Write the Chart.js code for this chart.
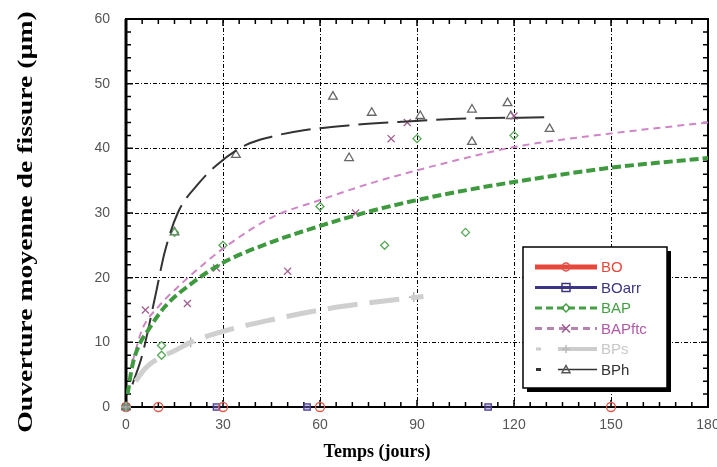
<!DOCTYPE html>
<html>
<head>
<meta charset="utf-8">
<script src="https://cdn.jsdelivr.net/npm/chart.js@4.4.0/dist/chart.umd.min.js"></script>
<style>
    html, body { margin: 0; padding: 0; background: #fff; }
    #chartContainer { width: 717px; height: 467px; }
</style>
</head>
<body>
<div id="chartContainer">
    <canvas id="myChart"></canvas>
</div>

<script>
    // axis ticks
    var xTicks = [0, 30, 60, 90, 120, 150, 180];
    var yTicks = [0, 10, 20, 30, 40, 50, 60];
    var xTitle = 'Temps (jours)';
    var yTitle = 'Ouverture moyenne de fissure (µm)';

    var boDays = [0, 10, 30, 60, 150];
    var boVals = [0, 0, 0, 0, 0];
    var boarrDays = [0, 28, 56, 112];
    var boarrVals = [0, 0, 0, 0];
    var bapDays = [0, 11, 11, 15, 30, 60, 80, 90, 105, 120];
    var bapVals = [0, 9.5, 8, 27, 25, 31, 25, 41.5, 27, 42];
    var bapftcDays = [0, 6, 19, 28, 50, 71, 82, 87, 120];
    var bapftcVals = [0, 15, 16, 21.5, 21, 30, 41.5, 44, 45];
    var bpsDays = [0, 20, 89];
    var bpsVals = [0, 10, 17];
    var bphDays = [0, 15, 34, 64, 69, 76, 91, 107, 107, 118, 119, 131];
    var bphVals = [0, 27, 39, 48, 38.5, 45.5, 45, 46, 41, 47, 45, 43];

    // fitted curves
    var bapFitDays = [0.5, 2, 4, 7, 12, 20, 30, 45, 60, 75, 90, 105, 120, 150, 180];
    var bapFitVals = [2, 6.5, 9.5, 12, 15.5, 19, 22.3, 25.5, 28, 30.2, 32, 33.5, 34.8, 37, 38.5];
    var bapftcFitDays = [2, 5, 10, 17, 25, 30, 45, 60, 75, 90, 105, 120, 150, 180];
    var bapftcFitVals = [7, 12, 15.5, 19, 22.5, 24.5, 29.3, 32, 34.5, 36.6, 38.5, 40.2, 42.3, 44];
    var bpsFitDays = [3, 6, 10, 15, 20, 30, 45, 60, 75, 92];
    var bpsFitVals = [4, 6, 7.5, 8.7, 10, 11.7, 13.5, 15, 16.1, 17.1];
    var bphFitDays = [2, 5, 9, 12, 16, 22, 28, 37, 45, 55, 70, 85, 105, 131];
    var bphFitVals = [3.5, 8, 17, 24, 30, 34.3, 37.4, 40.5, 41.8, 42.8, 43.6, 44.1, 44.6, 44.8];

    var seriesNames = ['BO', 'BOarr', 'BAP', 'BAPftc', 'BPs', 'BPh'];

    function pts(xs, ys) {
        return xs.map(function (x, i) { return { x: x, y: ys[i] }; });
    }

    function fitLine(xs, ys, color, width, dash) {
        return {
            data: pts(xs, ys), showLine: true, borderColor: color, borderWidth: width,
            borderDash: dash, pointRadius: 0, cubicInterpolationMode: 'monotone', fill: false
        };
    }

    function markers(xs, ys, color, style, r, fillColor) {
        return {
            data: pts(xs, ys), showLine: false, pointStyle: style, pointRadius: r, clip: false,
            pointBorderColor: color, pointBackgroundColor: fillColor || 'rgba(0,0,0,0)', pointBorderWidth: 1.3
        };
    }

    // draws minor ticks and frame box
    var frameTicks = {
        id: 'frameTicks',
        beforeDatasetsDraw: function (chart) {
            var c = chart.ctx, a = chart.chartArea;
            var xs = chart.scales.x, ys = chart.scales.y;
            c.save();
            c.strokeStyle = '#000';
            c.lineWidth = 1.5;
            for (var d = 0; d <= 180; d += 5) {
                var px = xs.getPixelForValue(d);
                var len = d % 30 === 0 ? 7 : 5;
                c.beginPath();
                c.moveTo(px, a.bottom); c.lineTo(px, a.bottom - len);
                c.moveTo(px, a.top); c.lineTo(px, a.top + len);
                c.stroke();
            }
            for (var v = 0; v <= 60; v += 2) {
                var py = ys.getPixelForValue(v);
                var l2 = v % 10 === 0 ? 7 : 5;
                c.beginPath();
                c.moveTo(a.left, py); c.lineTo(a.left + l2, py);
                c.moveTo(a.right, py); c.lineTo(a.right - l2, py);
                c.stroke();
            }
            c.lineWidth = 2;
            c.strokeRect(a.left, a.top, a.right - a.left, a.bottom - a.top);
            c.lineWidth = 3;
            c.beginPath(); c.moveTo(a.left, a.top); c.lineTo(a.left, a.bottom); c.stroke();
            c.restore();
        }
    };

    // axis titles (the y one is stretched along its length as in the figure)
    var axisTitles = {
        id: 'axisTitles',
        afterDraw: function (chart) {
            var c = chart.ctx;
            c.save();
            c.fillStyle = '#000';
            c.textAlign = 'center';
            c.textBaseline = 'middle';
            c.font = 'bold 18px "Liberation Serif", "Times New Roman", serif';
            c.fillText(xTitle, 377, 452);
            c.translate(26, 222);
            c.rotate(-Math.PI / 2);
            c.scale(1.26, 1);
            c.font = 'bold 22px "Liberation Serif", "Times New Roman", serif';
            c.fillText(yTitle, 0, 0);
            c.restore();
        }
    };

    function drawMarker(c, style, x, y, r, color) {
        c.save();
        c.strokeStyle = color; c.lineWidth = 1.5; c.setLineDash([]);
        c.beginPath();
        if (style === 'circle') { c.arc(x, y, r, 0, Math.PI * 2); }
        else if (style === 'rect') { c.rect(x - r, y - r, 2 * r, 2 * r); }
        else if (style === 'diamond') { c.moveTo(x, y - r); c.lineTo(x + r, y); c.lineTo(x, y + r); c.lineTo(x - r, y); c.closePath(); }
        else if (style === 'x') { c.moveTo(x - r, y - r); c.lineTo(x + r, y + r); c.moveTo(x + r, y - r); c.lineTo(x - r, y + r); }
        else if (style === 'plus') { c.moveTo(x - r, y); c.lineTo(x + r, y); c.moveTo(x, y - r); c.lineTo(x, y + r); }
        else if (style === 'triangle') { c.moveTo(x, y - r); c.lineTo(x + r, y + r * 0.8); c.lineTo(x - r, y + r * 0.8); c.closePath(); }
        c.stroke();
        c.restore();
    }

    // legend box drawn inside the plot
    var legendItems = [
        { color: '#e8473b', text: '#e8473b', width: 5, dash: [], marker: 'circle', mcolor: '#d9534f', start: 535 },
        { color: '#3b3584', text: '#3b3584', width: 3, dash: [], marker: 'rect', mcolor: '#3b3584', start: 535 },
        { color: '#45a045', text: '#45a045', width: 3, dash: [7, 4], marker: 'diamond', mcolor: '#45a045', start: 535 },
        { color: '#b784b0', text: '#b05aa8', width: 3, dash: [7, 5], marker: 'x', mcolor: '#9a5a90', start: 535 },
        { color: '#cccccc', text: '#c8c8c8', width: 4, dash: [], marker: 'plus', mcolor: '#bbbbbb', start: 558, lead: true },
        { color: '#333333', text: '#333333', width: 1.5, dash: [], marker: 'triangle', mcolor: '#555555', start: 558, lead: true }
    ];
    var legendBox = {
        id: 'legendBox',
        afterDraw: function (chart) {
            var c = chart.ctx;
            var bx = 523, by = 247, bw = 144, bh = 141;
            c.save();
            c.fillStyle = '#000';
            c.fillRect(bx + 4, by + 4, bw, bh);
            c.fillStyle = '#fff';
            c.fillRect(bx, by, bw, bh);
            c.strokeStyle = '#000'; c.lineWidth = 1.5;
            c.strokeRect(bx, by, bw, bh);
            c.font = '15px "Liberation Sans", Arial, sans-serif';
            c.textBaseline = 'middle';
            legendItems.forEach(function (it, i) {
                var y = 267 + i * 20.5;
                if (it.lead) {
                    c.fillStyle = it.color;
                    c.fillRect(536, y - 1.5, 5, 3);
                }
                c.strokeStyle = it.color; c.lineWidth = it.width;
                c.setLineDash(it.dash);
                c.beginPath(); c.moveTo(it.start, y); c.lineTo(597, y); c.stroke();
                c.setLineDash([]);
                drawMarker(c, it.marker, 566, y, 4, it.mcolor);
                c.fillStyle = it.text;
                c.fillText(seriesNames[i], 601, y + 1);
            });
            c.restore();
        }
    };

    var ctx = document.getElementById('myChart').getContext('2d');
    var chartData = {
        datasets: [
            fitLine(bpsFitDays, bpsFitVals, '#cfcfcf', 5, [30, 12]),
            fitLine(bapFitDays, bapFitVals, '#3f9a3f', 4, [9, 4]),
            fitLine(bapftcFitDays, bapftcFitVals, '#cf86c6', 2, [7, 5]),
            fitLine(bphFitDays, bphFitVals, '#333333', 2, [30, 9]),
            markers(bpsDays, bpsVals, '#aaaaaa', 'cross', 5),
            markers(bapDays, bapVals, '#55a855', 'rectRot', 4),
            markers(bapftcDays, bapftcVals, '#a06090', 'crossRot', 5),
            markers(bphDays, bphVals, '#666666', 'triangle', 5),
            markers(boDays, boVals, '#e05a4a', 'circle', 4.5),
            markers(boarrDays, boarrVals, '#4a3f9a', 'rect', 4.5, 'rgba(130,120,200,0.45)')
        ]
    };

    var tickFont = { family: '"Liberation Sans", Arial, sans-serif', size: 14 };

    var myChart = new Chart(ctx, {
        type: 'scatter',
        data: chartData,
        plugins: [frameTicks, axisTitles, legendBox],
        options: {
            responsive: true,
            maintainAspectRatio: false,
            animation: false,
            layout: { padding: { left: 0, right: 9, top: 19, bottom: 0 } },
            plugins: { legend: { display: false }, tooltip: { enabled: false } },
            scales: {
                x: {
                    type: 'linear', min: 0, max: 180,
                    afterBuildTicks: function (s) { s.ticks = xTicks.map(function (v) { return { value: v }; }); },
                    afterFit: function (s) { s.height = 60; s.paddingLeft = 0; s.paddingRight = 0; },
                    grid: { color: '#000', lineWidth: 1, drawTicks: false },
                    border: { display: false, dash: [4, 2, 1, 2] },
                    ticks: { font: tickFont, color: '#555', padding: 10 }
                },
                y: {
                    type: 'linear', min: 0, max: 60,
                    afterBuildTicks: function (s) { s.ticks = yTicks.map(function (v) { return { value: v }; }); },
                    afterFit: function (s) { s.width = 126; s.paddingTop = 0; s.paddingBottom = 0; },
                    grid: { color: '#000', lineWidth: 1, drawTicks: false },
                    border: { display: false, dash: [4, 2, 1, 2] },
                    ticks: { font: tickFont, color: '#555', padding: 16 }
                }
            }
        }
    });
</script>
</body>
</html>
